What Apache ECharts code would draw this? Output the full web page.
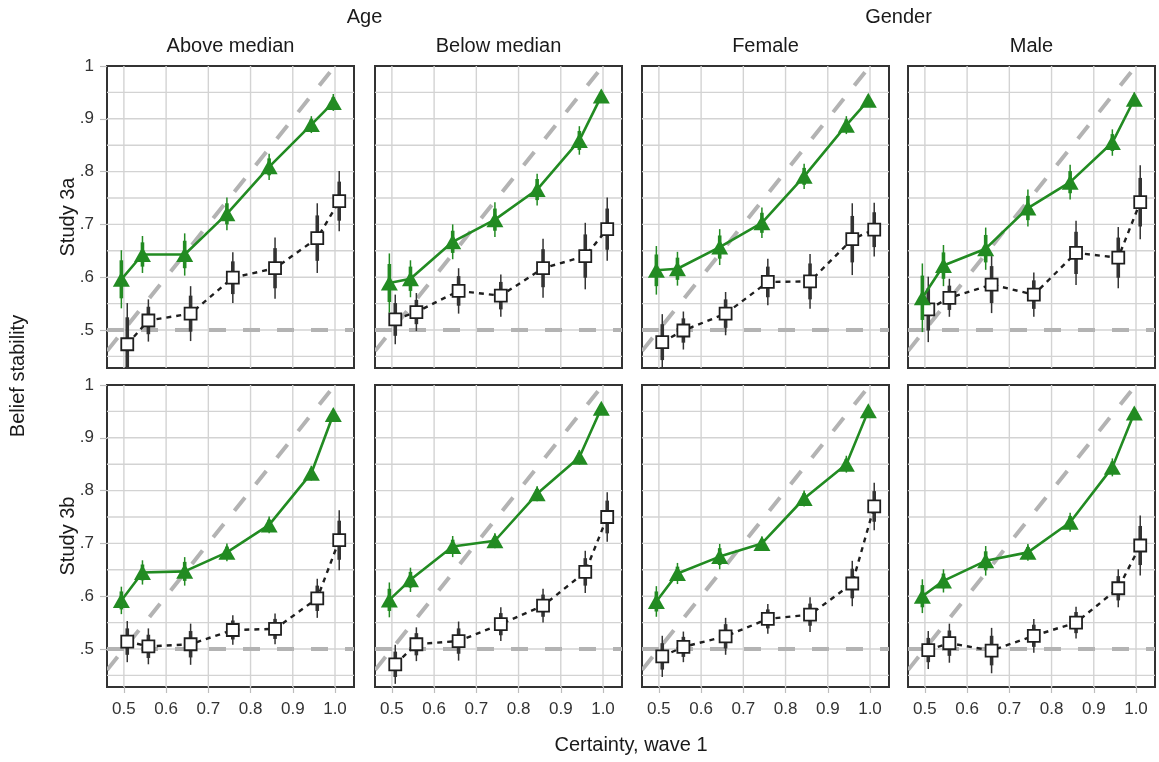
<!DOCTYPE html>
<html>
<head>
<meta charset="utf-8">
<script src="https://cdn.jsdelivr.net/npm/echarts@6/dist/echarts.min.js"></script>
<style>
html,body{margin:0;padding:0;background:#fff;}
#chart{width:1159px;height:762px;}
</style>
</head>
<body>
<div id="chart"></div>
<script>
// ---------- data ----------
const groupTitles = ['Age', 'Gender'];
const colTitles = ['Above median', 'Below median', 'Female', 'Male'];
const rowTitles = ['Study 3a', 'Study 3b'];
const xTitle = 'Certainty, wave 1';
const yTitle = 'Belief stability';
const xTicks = [0.5, 0.6, 0.7, 0.8, 0.9, 1.0];
const yTicks = [0.5, 0.6, 0.7, 0.8, 0.9, 1.0];
const yTickLabels = ['.5', '.6', '.7', '.8', '.9', '1'];
const yGridValues = [0.45, 0.5, 0.55, 0.6, 0.65, 0.7, 0.75, 0.8, 0.85, 0.9, 0.95];
const chanceLevel = 0.5;
const diagonalSpan = [0.46, 0.99];

// x positions (certainty bins, dodged)
const xGreen  = [0.494, 0.544, 0.644, 0.744, 0.844, 0.944, 0.996];
const xSquare = [0.508, 0.558, 0.658, 0.758, 0.858, 0.958, 1.010];

// Study 3a – Above median
const green_A3a   = [0.596, 0.643, 0.643, 0.720, 0.809, 0.889, 0.931];
const green95_A3a = [0.055, 0.035, 0.040, 0.031, 0.025, 0.016, 0.016];
const green80_A3a = [0.036, 0.023, 0.026, 0.020, 0.016, 0.010, 0.010];
const sq_A3a      = [0.473, 0.518, 0.531, 0.599, 0.617, 0.674, 0.744];
const sq95_A3a    = [0.078, 0.040, 0.052, 0.048, 0.058, 0.066, 0.057];
const sq80_A3a    = [0.051, 0.026, 0.034, 0.031, 0.038, 0.043, 0.037];
// Study 3a – Below median
const green_B3a   = [0.589, 0.597, 0.667, 0.709, 0.766, 0.859, 0.943];
const green95_B3a = [0.056, 0.035, 0.033, 0.033, 0.030, 0.027, 0.012];
const green80_B3a = [0.036, 0.023, 0.021, 0.021, 0.020, 0.018, 0.008];
const sq_B3a      = [0.520, 0.534, 0.574, 0.565, 0.617, 0.640, 0.691];
const sq95_B3a    = [0.047, 0.036, 0.043, 0.040, 0.056, 0.063, 0.060];
const sq80_B3a    = [0.031, 0.023, 0.028, 0.026, 0.036, 0.041, 0.039];
// Study 3a – Female
const green_F3a   = [0.613, 0.616, 0.657, 0.703, 0.791, 0.888, 0.935];
const green95_F3a = [0.046, 0.032, 0.034, 0.029, 0.024, 0.017, 0.011];
const green80_F3a = [0.030, 0.021, 0.022, 0.019, 0.016, 0.011, 0.007];
const sq_F3a      = [0.477, 0.499, 0.531, 0.591, 0.592, 0.672, 0.690];
const sq95_F3a    = [0.053, 0.036, 0.041, 0.044, 0.052, 0.068, 0.051];
const sq80_F3a    = [0.034, 0.023, 0.027, 0.029, 0.034, 0.044, 0.033];
// Study 3a – Male
const green_M3a   = [0.561, 0.622, 0.654, 0.731, 0.780, 0.855, 0.937];
const green95_M3a = [0.065, 0.039, 0.040, 0.035, 0.033, 0.025, 0.013];
const green80_M3a = [0.042, 0.025, 0.026, 0.023, 0.021, 0.016, 0.008];
const sq_M3a      = [0.539, 0.561, 0.586, 0.567, 0.646, 0.637, 0.742];
const sq95_M3a    = [0.062, 0.036, 0.054, 0.042, 0.061, 0.058, 0.070];
const sq80_M3a    = [0.040, 0.023, 0.035, 0.027, 0.040, 0.038, 0.046];
// Study 3b – Above median
const green_A3b   = [0.592, 0.645, 0.647, 0.683, 0.735, 0.833, 0.944];
const green95_A3b = [0.026, 0.023, 0.027, 0.017, 0.016, 0.014, 0.011];
const green80_A3b = [0.017, 0.015, 0.018, 0.011, 0.010, 0.009, 0.007];
const sq_A3b      = [0.514, 0.505, 0.509, 0.536, 0.538, 0.596, 0.706];
const sq95_A3b    = [0.039, 0.034, 0.039, 0.028, 0.029, 0.037, 0.057];
const sq80_A3b    = [0.025, 0.022, 0.025, 0.018, 0.019, 0.024, 0.037];
// Study 3b – Below median
const green_B3b   = [0.593, 0.631, 0.694, 0.705, 0.794, 0.863, 0.956];
const green95_B3b = [0.033, 0.023, 0.020, 0.014, 0.014, 0.014, 0.010];
const green80_B3b = [0.021, 0.015, 0.013, 0.009, 0.009, 0.009, 0.007];
const sq_B3b      = [0.471, 0.509, 0.515, 0.547, 0.582, 0.646, 0.750];
const sq95_B3b    = [0.037, 0.032, 0.037, 0.032, 0.032, 0.040, 0.047];
const sq80_B3b    = [0.024, 0.021, 0.024, 0.021, 0.021, 0.026, 0.031];
// Study 3b – Female
const green_F3b   = [0.590, 0.643, 0.675, 0.700, 0.785, 0.850, 0.951];
const green95_F3b = [0.029, 0.020, 0.024, 0.013, 0.015, 0.016, 0.010];
const green80_F3b = [0.019, 0.013, 0.016, 0.008, 0.010, 0.010, 0.007];
const sq_F3b      = [0.486, 0.504, 0.524, 0.557, 0.565, 0.624, 0.770];
const sq95_F3b    = [0.039, 0.029, 0.035, 0.028, 0.033, 0.043, 0.045];
const sq80_F3b    = [0.025, 0.019, 0.023, 0.018, 0.021, 0.028, 0.029];
// Study 3b – Male
const green_M3b   = [0.600, 0.629, 0.667, 0.683, 0.740, 0.844, 0.947];
const green95_M3b = [0.032, 0.022, 0.028, 0.016, 0.018, 0.017, 0.010];
const green80_M3b = [0.021, 0.014, 0.018, 0.010, 0.012, 0.011, 0.007];
const sq_M3b      = [0.498, 0.511, 0.497, 0.525, 0.550, 0.615, 0.696];
const sq95_M3b    = [0.036, 0.037, 0.043, 0.032, 0.030, 0.036, 0.057];
const sq80_M3b    = [0.023, 0.024, 0.028, 0.021, 0.020, 0.023, 0.037];

const panels = [
  [green_A3a, green95_A3a, green80_A3a, sq_A3a, sq95_A3a, sq80_A3a],
  [green_B3a, green95_B3a, green80_B3a, sq_B3a, sq95_B3a, sq80_B3a],
  [green_F3a, green95_F3a, green80_F3a, sq_F3a, sq95_F3a, sq80_F3a],
  [green_M3a, green95_M3a, green80_M3a, sq_M3a, sq95_M3a, sq80_M3a],
  [green_A3b, green95_A3b, green80_A3b, sq_A3b, sq95_A3b, sq80_A3b],
  [green_B3b, green95_B3b, green80_B3b, sq_B3b, sq95_B3b, sq80_B3b],
  [green_F3b, green95_F3b, green80_F3b, sq_F3b, sq95_F3b, sq80_F3b],
  [green_M3b, green95_M3b, green80_M3b, sq_M3b, sq95_M3b, sq80_M3b]
];

// ---------- layout / style ----------
const colLeft = [107, 375, 642, 908];
const rowTop = [66, 385];
const PW = 247, PH = 302;
const XMIN = 0.46, XMAX = 1.045, YMIN = 0.428, YMAX = 1.0;
const GREEN = '#228B22';
const DARK = '#1f1f1f';
const REF = '#b3b3b3';
const GRIDC = '#d3d3d3';
const FONT = '"Liberation Sans", Arial, sans-serif';
const TITLE_SIZE = 20;
const TICK_SIZE = 17;

const chart = echarts.init(document.getElementById('chart'), null, {renderer: 'canvas'});

const grids = [], xAxes = [], yAxes = [], series = [];

function errRender(color, thinW, thickW) {
  return function (params, api) {
    const x = api.value(0), y = api.value(1), h95 = api.value(2), h80 = api.value(3);
    const a = api.coord([x, y - h95]), b = api.coord([x, y + h95]);
    const c = api.coord([x, y - h80]), d = api.coord([x, y + h80]);
    return {
      type: 'group',
      children: [
        {type: 'line', shape: {x1: a[0], y1: a[1], x2: b[0], y2: b[1]}, style: {stroke: color, lineWidth: thinW}},
        {type: 'line', shape: {x1: c[0], y1: c[1], x2: d[0], y2: d[1]}, style: {stroke: color, lineWidth: thickW}}
      ]
    };
  };
}

// gridlines: dim0 value, dim1 orientation (0 vertical, 1 horizontal)
function gridRender(params, api) {
  const v = api.value(0), o = api.value(1);
  let p1, p2;
  if (o === 0) { p1 = api.coord([v, YMIN]); p2 = api.coord([v, YMAX]); }
  else { p1 = api.coord([XMIN, v]); p2 = api.coord([XMAX, v]); }
  return {type: 'line', shape: {x1: p1[0], y1: p1[1], x2: p2[0], y2: p2[1]},
    style: {stroke: GRIDC, lineWidth: 1.4}};
}
// reference lines: dim0..3 = x1,y1,x2,y2
function refRender(params, api) {
  const p1 = api.coord([api.value(0), api.value(1)]);
  const p2 = api.coord([api.value(2), api.value(3)]);
  return {type: 'line', shape: {x1: p1[0], y1: p1[1], x2: p2[0], y2: p2[1]},
    style: {stroke: REF, lineWidth: 4, lineDash: [17, 17]}};
}

const gridData = xTicks.map(v => [v, 0]).concat(yGridValues.map(v => [v, 1]));
const refData = [
  [XMIN, chanceLevel, XMAX, chanceLevel],
  [diagonalSpan[0], diagonalSpan[0], diagonalSpan[1], diagonalSpan[1]]
];

for (let i = 0; i < 8; i++) {
  const r = Math.floor(i / 4), c = i % 4;
  grids.push({left: colLeft[c], top: rowTop[r], width: PW, height: PH, show: true,
    borderColor: '#333', borderWidth: 2, backgroundColor: '#fff', containLabel: false});
  xAxes.push({
    gridIndex: i, type: 'value', min: XMIN, max: XMAX,
    axisLine: {show: false}, splitLine: {show: false},
    axisTick: {show: r === 1, customValues: xTicks, length: 6, lineStyle: {color: '#bdbdbd', width: 1.2}},
    axisLabel: {show: r === 1, customValues: xTicks, margin: 14, fontSize: TICK_SIZE, color: '#333', fontFamily: FONT,
      formatter: v => v.toFixed(1)}
  });
  yAxes.push({
    gridIndex: i, type: 'value', min: YMIN, max: YMAX,
    axisLine: {show: false}, splitLine: {show: false},
    axisTick: {show: c === 0, customValues: yTicks, length: 7, lineStyle: {color: '#bdbdbd', width: 1.2}},
    axisLabel: {show: c === 0, customValues: yTicks, margin: 13, fontSize: TICK_SIZE, color: '#333', fontFamily: FONT,
      formatter: v => yTickLabels[yTicks.findIndex(t => Math.abs(t - v) < 1e-6)]}
  });

  const [gm, g95, g80, sm, s95, s80] = panels[i];

  series.push({
    type: 'custom', xAxisIndex: i, yAxisIndex: i, z: 1, clip: true, silent: true, animation: false,
    renderItem: gridRender, data: gridData, encode: {x: -1, y: -1}
  });
  series.push({
    type: 'custom', xAxisIndex: i, yAxisIndex: i, z: 2, clip: true, silent: true, animation: false,
    renderItem: refRender, data: refData, encode: {x: -1, y: -1}
  });
  // square error bars
  series.push({
    type: 'custom', xAxisIndex: i, yAxisIndex: i, z: 3, clip: true, silent: true, animation: false,
    renderItem: errRender('#333', 1.5, 3.6),
    data: sm.map((v, k) => [xSquare[k], v, s95[k], s80[k]])
  });
  // square line
  series.push({
    type: 'line', xAxisIndex: i, yAxisIndex: i, z: 4, animation: false, silent: true,
    data: sm.map((v, k) => [xSquare[k], v]),
    lineStyle: {color: DARK, width: 2.4, type: [5, 5]},
    symbol: 'rect', symbolSize: 12,
    itemStyle: {color: '#fff', borderColor: DARK, borderWidth: 1.8}
  });
  // green error bars
  series.push({
    type: 'custom', xAxisIndex: i, yAxisIndex: i, z: 5, clip: true, silent: true, animation: false,
    renderItem: errRender(GREEN, 1.5, 3.6),
    data: gm.map((v, k) => [xGreen[k], v, g95[k], g80[k]])
  });
  // green line
  series.push({
    type: 'line', xAxisIndex: i, yAxisIndex: i, z: 6, animation: false, silent: true,
    data: gm.map((v, k) => [xGreen[k], v]),
    lineStyle: {color: GREEN, width: 2.6},
    symbol: 'triangle', symbolSize: [17, 15],
    itemStyle: {color: GREEN, borderWidth: 0}
  });
}

const textStyle = (size) => ({fill: '#1a1a1a', font: size + 'px ' + FONT, textAlign: 'center', textVerticalAlign: 'middle'});
const graphic = [];
graphic.push({type: 'text', x: (colLeft[0] + colLeft[1] + PW) / 2, y: 17, style: Object.assign({text: groupTitles[0]}, textStyle(TITLE_SIZE))});
graphic.push({type: 'text', x: (colLeft[2] + colLeft[3] + PW) / 2, y: 17, style: Object.assign({text: groupTitles[1]}, textStyle(TITLE_SIZE))});
for (let c = 0; c < 4; c++) {
  graphic.push({type: 'text', x: colLeft[c] + PW / 2, y: 46, style: Object.assign({text: colTitles[c]}, textStyle(TITLE_SIZE))});
}
for (let r = 0; r < 2; r++) {
  graphic.push({type: 'text', x: 68, y: rowTop[r] + PH / 2, rotation: Math.PI / 2, style: Object.assign({text: rowTitles[r]}, textStyle(TITLE_SIZE))});
}
graphic.push({type: 'text', x: 18, y: 376, rotation: Math.PI / 2, style: Object.assign({text: yTitle}, textStyle(TITLE_SIZE))});
graphic.push({type: 'text', x: 631, y: 745, style: Object.assign({text: xTitle}, textStyle(TITLE_SIZE))});

chart.setOption({
  animation: false,
  backgroundColor: '#fff',
  grid: grids,
  xAxis: xAxes,
  yAxis: yAxes,
  series: series,
  graphic: graphic
});
</script>
</body>
</html>
